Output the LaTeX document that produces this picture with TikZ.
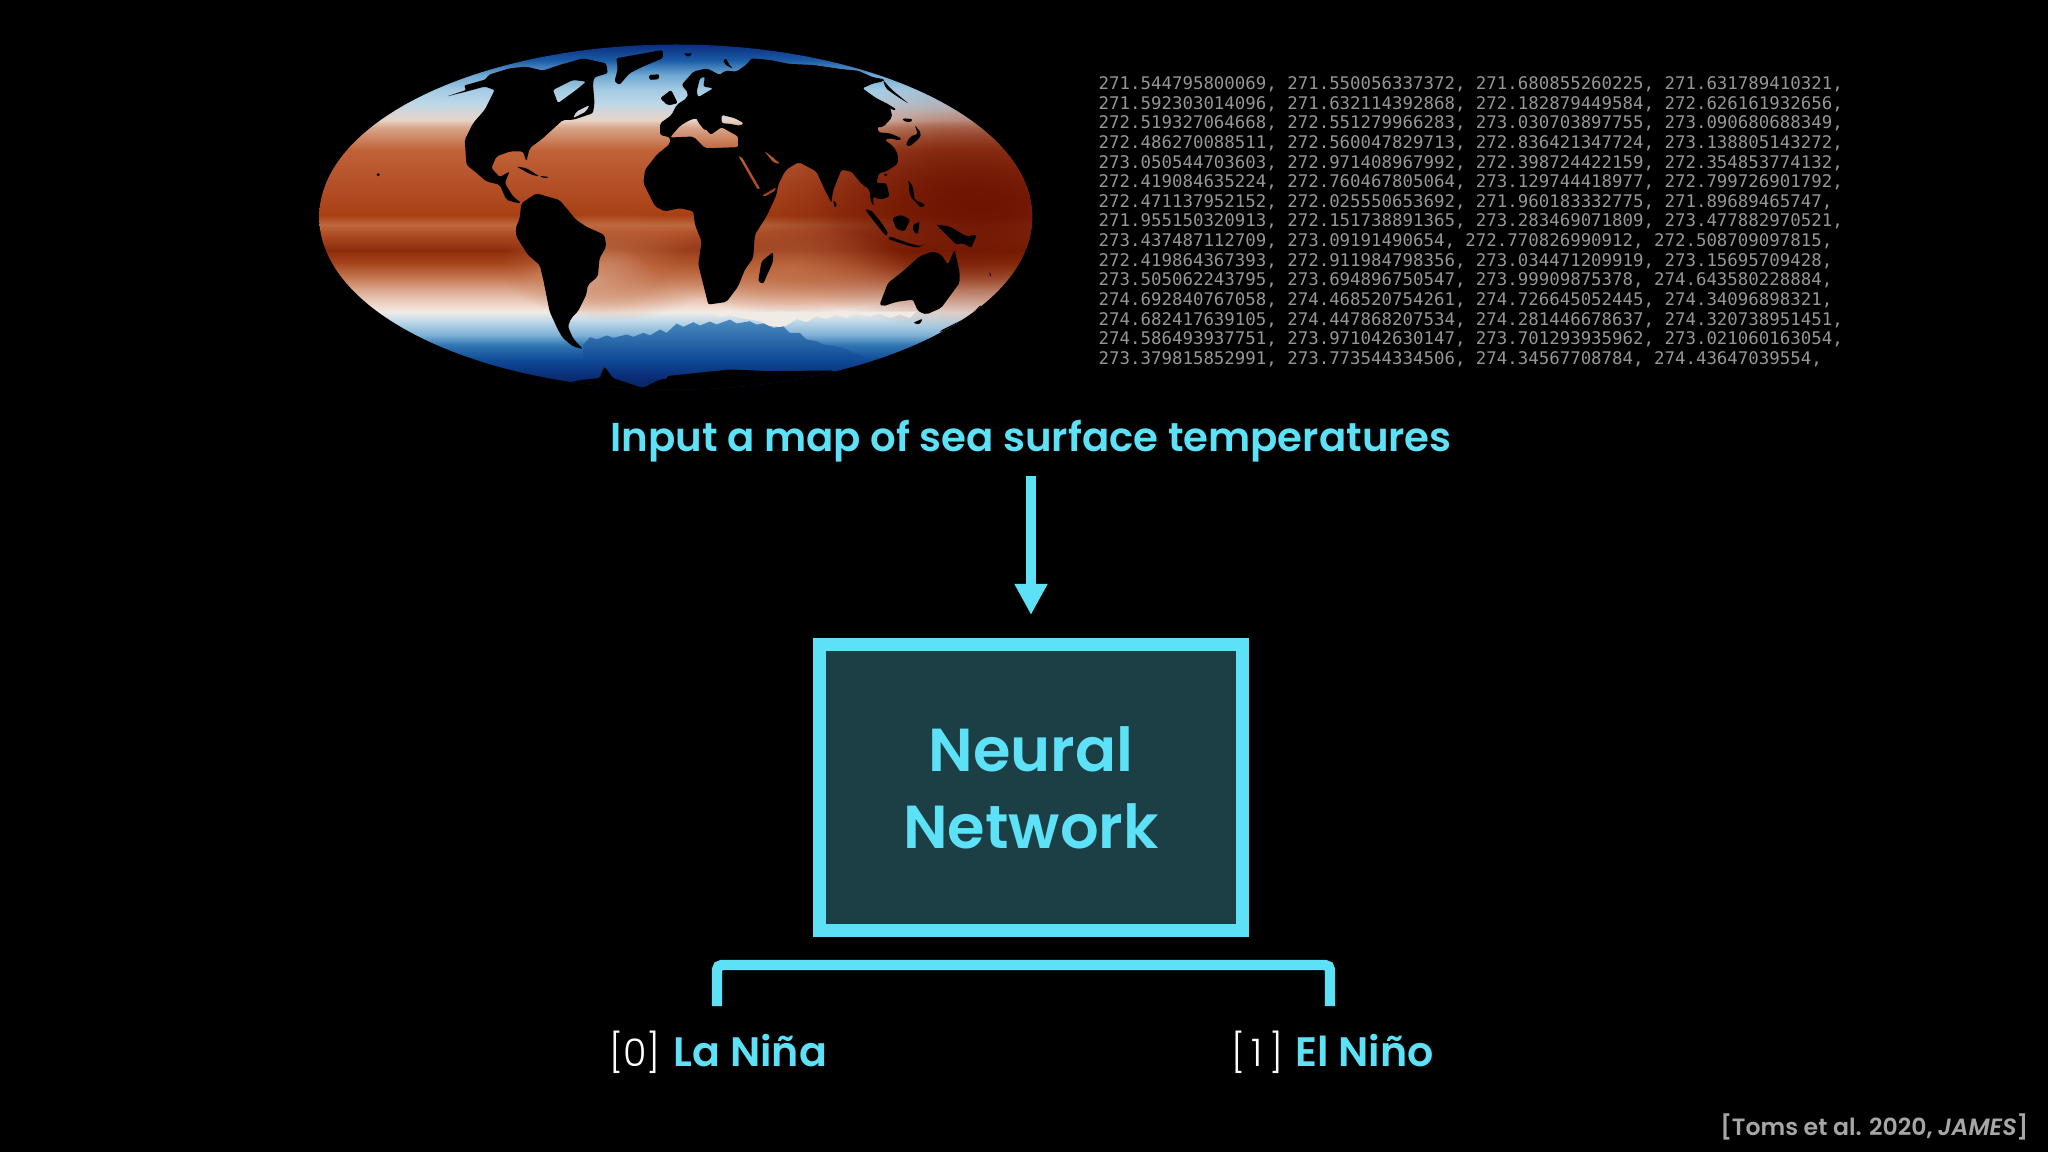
\documentclass[tikz,border=0pt]{standalone}
\usepackage{fontspec}
\usepackage{xcolor}
\usetikzlibrary{arrows.meta,fadings}
\newfontfamily\nnfont[UprightFont=* SemiBold,ItalicFont=* SemiBold Italic]{Poppins}
\newfontfamily\nnlight{Poppins Light}
\newfontfamily\nnmono{DejaVu Sans Mono}
\definecolor{nncyan}{HTML}{5CE1F7}
\definecolor{nnteal}{HTML}{1B3F45}
\definecolor{nngrey}{HTML}{A6A6A6}
\definecolor{nndigit}{HTML}{969696}
\definecolor{sstA}{HTML}{08205C}
\definecolor{sstB}{HTML}{0A2F7A}
\definecolor{sstC}{HTML}{0F4A96}
\definecolor{sstD}{HTML}{2F75B2}
\definecolor{sstE}{HTML}{7FB1D6}
\definecolor{sstF}{HTML}{C5DBE8}
\definecolor{sstG}{HTML}{F1EBE6}
\definecolor{sstH}{HTML}{F0D8CC}
\definecolor{sstI}{HTML}{DBA98F}
\definecolor{sstJ}{HTML}{C06F48}
\definecolor{sstK}{HTML}{A3431A}
\definecolor{sstL}{HTML}{8D2C0B}
\definecolor{sstM}{HTML}{B1522A}
\definecolor{sstN}{HTML}{BE683E}
\definecolor{sstO}{HTML}{A94015}
\definecolor{sstP}{HTML}{B5522A}
\definecolor{sstQ}{HTML}{C06238}
\definecolor{sstR}{HTML}{D9A78C}
\definecolor{sstS}{HTML}{E8D4C8}
\definecolor{sstT}{HTML}{BCD8E8}
\definecolor{sstU}{HTML}{A5CBE3}
\definecolor{sstV}{HTML}{6FA8D2}
\definecolor{sstW}{HTML}{1A5AA5}
\definecolor{sstX}{HTML}{0B2F80}
\definecolor{sstdeep}{HTML}{6E1402}
\definecolor{sstjag}{HTML}{4A8BC0}
\pgfdeclareverticalshading{sstbands}{100bp}{color(0bp)=(sstA); color(25bp)=(sstA); color(27.15bp)=(sstB);
  color(29.35bp)=(sstC); color(31.5bp)=(sstD); color(33bp)=(sstE); color(35.15bp)=(sstF); color(36.3bp)=(sstG);
  color(37.3bp)=(sstH); color(39.5bp)=(sstI); color(41.65bp)=(sstJ); color(43.5bp)=(sstK); color(45.3bp)=(sstL);
  color(47.9bp)=(sstM); color(48.9bp)=(sstN); color(50.35bp)=(sstO); color(55.45bp)=(sstP); color(59.8bp)=(sstQ);
  color(63.1bp)=(sstR); color(64.15bp)=(sstS); color(66.6bp)=(sstT); color(68.5bp)=(sstU); color(70.65bp)=(sstV);
  color(72.85bp)=(sstW); color(75bp)=(sstX); color(100bp)=(sstX)}
\tikzfading[name=blobfade, inner color=transparent!0, outer color=transparent!100]
\tikzset{
  nnbox/.style={draw=nncyan, fill=nnteal, line width=.13cm, minimum width=4.22cm, minimum height=2.86cm, inner sep=0pt, align=center, text=nncyan, font=\nnfont\fontsize{17.25pt}{21.9pt}\selectfont},
  nntitle/.style={text=nncyan, inner sep=0pt, text depth=0pt, font=\nnfont\fontsize{11.45pt}{13pt}\selectfont},
  nnclass/.style={text=nncyan, inner sep=0pt, font=\nnfont\fontsize{11.7pt}{13pt}\selectfont},
  nnindex/.style={text=white, inner sep=0pt, font=\nnlight\fontsize{10.8pt}{12pt}\selectfont},
  nndigits/.style={text=nndigit, inner sep=0pt, align=left, font=\nnmono\fontsize{4.95pt}{5.58pt}\selectfont},
  nncite/.style={text=nngrey, inner sep=0pt, font=\nnfont\fontsize{6.7pt}{8pt}\selectfont},
  nnarr/.style={-{Triangle[length=.31cm,width=.31cm]}, line width=.107cm, draw=nncyan, shorten <=.237cm, shorten >=.23cm},
  nnleg/.style={line width=.104cm, draw=nncyan, rounded corners=1.4pt},
  land/.style={fill=black, even odd rule, rounded corners=.6pt},
  mapnw/.style={shift={(310,40)}, x=.003333cm, y=-.003333cm},
  mapne/.style={shift={(670,40)}, x=.003333cm, y=-.003333cm},
  mapsw/.style={shift={(310,215)}, x=.003333cm, y=-.003333cm}
}
\begin{document}
\begin{tikzpicture}[x=.01cm, y=-.01cm]
  \useasboundingbox (0,0) rectangle (2048,1152);
  \fill[black] (0,0) rectangle (2048,1152);
  \begin{scope}
    \clip (675.7,217) ellipse [x radius=356.5, y radius=172.5];
    \shade[shading=sstbands] (319,45) rectangle (1033,390);
    \fill[color=sstdeep, path fading=blobfade] (985,205) ellipse [x radius=260, y radius=125];
    \fill[color=sstdeep, opacity=.8, path fading=blobfade] (960,200) ellipse [x radius=150, y radius=90];
    \fill[color=sstJ, path fading=blobfade] (610,265) ellipse [x radius=110, y radius=55];
    \fill[color=sstI, opacity=.7, path fading=blobfade] (590,280) ellipse [x radius=70, y radius=35];
    \fill[color=sstJ, opacity=.9, path fading=blobfade] (790,270) ellipse [x radius=120, y radius=45];
    \begin{scope}[mapne]
      \shade[top color=sstjag, bottom color=sstC] (-260,960) -- (-260,915) -- (-240,893) -- (-220,900) -- (-190,888) -- (-170,895) -- (-130,885) -- (-110,892) -- (-80,880) -- (-60,888) -- (-30,870) -- (-10,880) -- (20,852) -- (40,862) -- (70,848) -- (90,858) -- (120,846) -- (140,855) -- (180,840) -- (200,852) -- (240,845) -- (260,855) -- (290,850) -- (310,865) -- (340,860) -- (360,880) -- (390,880) -- (410,900) -- (440,905) -- (460,915) -- (520,925) -- (600,960) -- cycle;
      \fill[sstG] (-60,816) -- (740,816) -- (720,835) -- (690,825) -- (660,835) -- (630,822) -- (600,832) -- (560,822) -- (530,835) -- (500,825) -- (470,838) -- (440,830) -- (410,848) -- (380,838) -- (350,858) -- (330,862) -- (300,860) -- (270,845) -- (240,840) -- (210,835) -- (180,828) -- (150,832) -- (120,818) -- (90,825) -- (60,818) -- cycle;
    \end{scope}
    \begin{scope}[mapnw]
      \fill[land] (410,170) -- (470,150) -- (462,137) -- (530,118) -- (535,105) -- (600,85) -- (650,80) -- (700,92) -- (750,75) -- (820,55) -- (890,70) -- (895,100) -- (855,112) -- (850,130) -- (855,190) -- (850,220) -- (790,240) -- (760,240) -- (700,295) -- (660,325) -- (650,365) -- (640,335) -- (600,335) -- (560,350) -- (545,385) -- (570,412) -- (600,395) -- (585,430) -- (610,470) -- (635,490) -- (622,490) -- (590,480) -- (570,435) -- (530,425) -- (495,395) -- (470,375) -- (465,300) -- (490,250) -- (525,210) -- (555,150) -- (525,140) -- (470,155) -- cycle
        (730,150) -- (790,120) -- (830,125) -- (800,150) -- (745,190) -- cycle
        (800,215) -- (840,195) -- (830,215) -- (790,235) -- cycle;
      \fill[land] (920,55) -- (1060,30) -- (1060,55) -- (1000,80) -- (960,100) -- (930,135) -- (915,125) -- (925,85) -- cycle;
      \fill[land] (1018,105) -- (1050,103) -- (1048,118) -- (1020,120) -- cycle;
      \fill[land] (1052,175) -- (1085,150) -- (1105,190) -- (1075,197) -- cycle;
      \fill[land] (620,380) -- (650,385) -- (690,410) -- (665,405) -- cycle;
      \fill[land] (690,408) -- (720,412) -- (700,416) -- cycle;
      \fill[land] (205,405) circle (5);
    \end{scope}
    \begin{scope}[mapsw]
      \fill[land] (635,-35) -- (680,-65) -- (750,-45) -- (800,15) -- (830,35) -- (885,60) -- (890,95) -- (870,130) -- (865,185) -- (835,210) -- (830,240) -- (805,290) -- (785,310) -- (775,335) -- (790,370) -- (820,403) -- (790,395) -- (760,370) -- (745,345) -- (720,290) -- (700,190) -- (690,150) -- (655,120) -- (620,65) -- (618,40) -- (630,10) -- cycle;
      \fill[land] (740,510) -- (820,495) -- (870,490) -- (885,455) -- (910,490) -- (1000,520) -- (1050,495) -- (1110,485) -- (1110,560) -- (740,560) -- cycle;
    \end{scope}
    \begin{scope}[mapne]
      \fill[land] (35,135) -- (70,95) -- (110,85) -- (150,105) -- (165,92) -- (200,95) -- (232,72) -- (245,55) -- (300,60) -- (360,72) -- (430,75) -- (520,88) -- (565,92) -- (610,112) -- (645,118) -- (640,125) -- (612,130) -- (578,145) -- (620,175) -- (660,195) -- (668,232) -- (640,262) -- (622,262) -- (628,278) -- (660,280) -- (695,295) -- (690,302) -- (660,295) -- (645,300) -- (672,320) -- (685,345) -- (685,372) -- (650,395) -- (628,400) -- (620,430) -- (650,430) -- (660,470) -- (632,480) -- (610,470) -- (612,500) -- (602,480) -- (600,450) -- (575,432) -- (545,395) -- (515,390) -- (490,452) -- (485,490) -- (465,450) -- (440,395) -- (388,367) -- (360,382) -- (345,395) -- (325,435) -- (320,465) -- (290,530) -- (255,585) -- (250,655) -- (225,690) -- (205,740) -- (170,787) -- (115,795) -- (85,675) -- (95,605) -- (75,555) -- (70,515) -- (30,505) -- (-15,515) -- (-45,500) -- (-80,430) -- (-75,390) -- (-40,345) -- (0,312) -- (0,293) -- (-30,285) -- (-30,250) -- (-15,240) -- (5,225) -- (20,195) -- (50,175) -- (55,160) -- cycle
        (0,293) -- (30,258) -- (60,240) -- (80,235) -- (108,268) -- (122,285) -- (155,262) -- (205,290) -- (205,322) -- (125,325) -- (105,325) -- (70,290) -- cycle
        (155,225) -- (195,235) -- (222,250) -- (212,258) -- (180,252) -- (155,250) -- cycle
        (205,348) -- (215,350) -- (272,448) -- (263,450) -- cycle
        (275,468) -- (320,442) -- (318,452) -- (283,472) -- cycle
        (282,333) -- (300,345) -- (332,372) -- (312,370) -- cycle
        (90,115) -- (105,110) -- (100,140) -- (130,145) -- (85,172) -- (80,155) -- cycle;
      \fill[land] (78,232) -- (95,240) -- (112,268) -- (105,272) -- (85,248) -- cycle;
      \fill[land] (640,120) -- (665,148) -- (718,192) -- (680,168) -- (648,145) -- cycle;
      \fill[land] (650,190) -- (680,208) -- (672,212) -- (648,196) -- cycle;
      \fill[land] (700,235) -- (730,238) -- (722,248) -- (700,243) -- cycle;
      \fill[land] (708,315) -- (722,290) -- (745,282) -- (735,255) -- (755,280) -- (750,295) -- (720,320) -- cycle;
      \fill[land] (160,60) -- (170,55) -- (175,72) -- (190,85) -- (178,82) -- (162,70) -- cycle;
      \fill[land] (40,40) -- (68,40) -- (55,52) -- cycle;
      \fill[land] (490,480) -- (503,495) -- (495,505) -- cycle;
      \fill[land] (640,403) -- (655,400) -- (650,412) -- cycle;
      \fill[land] (715,420) -- (730,440) -- (735,480) -- (768,495) -- (755,505) -- (722,470) -- cycle;
      \fill[land] (585,508) -- (605,512) -- (640,555) -- (655,580) -- (650,590) -- (625,560) -- cycle;
      \fill[land] (660,590) -- (715,610) -- (755,620) -- (770,610) -- (745,625) -- (705,615) -- (655,598) -- cycle;
      \fill[land] (668,535) -- (695,525) -- (722,540) -- (705,575) -- (680,568) -- cycle;
      \fill[land] (730,555) -- (750,545) -- (745,585) -- (730,575) -- cycle;
      \fill[land] (800,555) -- (840,560) -- (890,590) -- (922,585) -- (905,625) -- (880,610) -- (860,615) -- (830,585) -- cycle;
      \fill[land] (265,725) -- (275,665) -- (310,637) -- (310,665) -- (280,733) -- cycle;
      \fill[land] (630,795) -- (655,730) -- (700,695) -- (750,650) -- (790,635) -- (815,645) -- (835,675) -- (855,630) -- (870,695) -- (870,730) -- (815,805) -- (770,825) -- (745,815) -- (730,780) -- (680,787) -- (640,800) -- cycle;
      \fill[land] (730,850) -- (760,837) -- (750,855) -- cycle;
      \fill[land] (810,875) -- (880,840) -- (910,820) -- (935,795) -- (935,820) -- (900,835) -- (885,850) -- (815,877) -- cycle;
      \fill[land] (-10,1010) -- (180,990) -- (300,995) -- (490,993) -- (510,1010) -- (420,1040) -- (300,1065) -- (-10,1065) -- cycle;
      \fill[land] (960,695) -- (966,710) -- (960,708) -- cycle;
    \end{scope}
  \end{scope}
  \node[nndigits, anchor=north west] (values) at (1098,76) {271.544795800069, 271.550056337372, 271.680855260225, 271.631789410321,\\
    271.592303014096, 271.632114392868, 272.182879449584, 272.626161932656,\\
    272.519327064668, 272.551279966283, 273.030703897755, 273.090680688349,\\
    272.486270088511, 272.560047829713, 272.836421347724, 273.138805143272,\\
    273.050544703603, 272.971408967992, 272.398724422159, 272.354853774132,\\
    272.419084635224, 272.760467805064, 273.129744418977, 272.799726901792,\\
    272.471137952152, 272.025550653692, 271.960183332775, 271.89689465747,\\
    271.955150320913, 272.151738891365, 273.283469071809, 273.477882970521,\\
    273.437487112709, 273.09191490654, 272.770826990912, 272.508709097815,\\
    272.419864367393, 272.911984798356, 273.034471209919, 273.15695709428,\\
    273.505062243795, 273.694896750547, 273.99909875378, 274.643580228884,\\
    274.692840767058, 274.468520754261, 274.726645052445, 274.34096898321,\\
    274.682417639105, 274.447868207534, 274.281446678637, 274.320738951451,\\
    274.586493937751, 273.971042630147, 273.701293935962, 273.021060163054,\\
    273.379815852991, 273.773544334506, 274.34567708784, 274.43647039554,};
  \node[nntitle, anchor=base] (title) at (1031,452) {Input a map of sea surface temperatures};
  \node[nnbox] (network) at (1031,787.5) {Neural\\Network};
  \draw[nnarr] (title.south) -- (network.north);
  \coordinate (legl) at (717,1006);
  \coordinate (legr) at (1330,1006);
  \coordinate (bartop) at (1024,965);
  \draw[nnleg] (legl) |- (bartop -| legr) -- (legr);
  \node[nnindex, anchor=base west] (zero) at (608.5,1066) {[0]};
  \node[nnclass, anchor=base west] (lanina) at (673,1066) {La Niña};
  \node[nnindex, anchor=base west] (one) at (1231,1066) {[\,1\,]};
  \node[nnclass, anchor=base west] (elnino) at (1294.5,1066) {El Niño};
  \node[nncite, anchor=base east] (cite) at (2029,1135) {[Toms et al. 2020, \textit{JAMES}]};
\end{tikzpicture}
\end{document}
